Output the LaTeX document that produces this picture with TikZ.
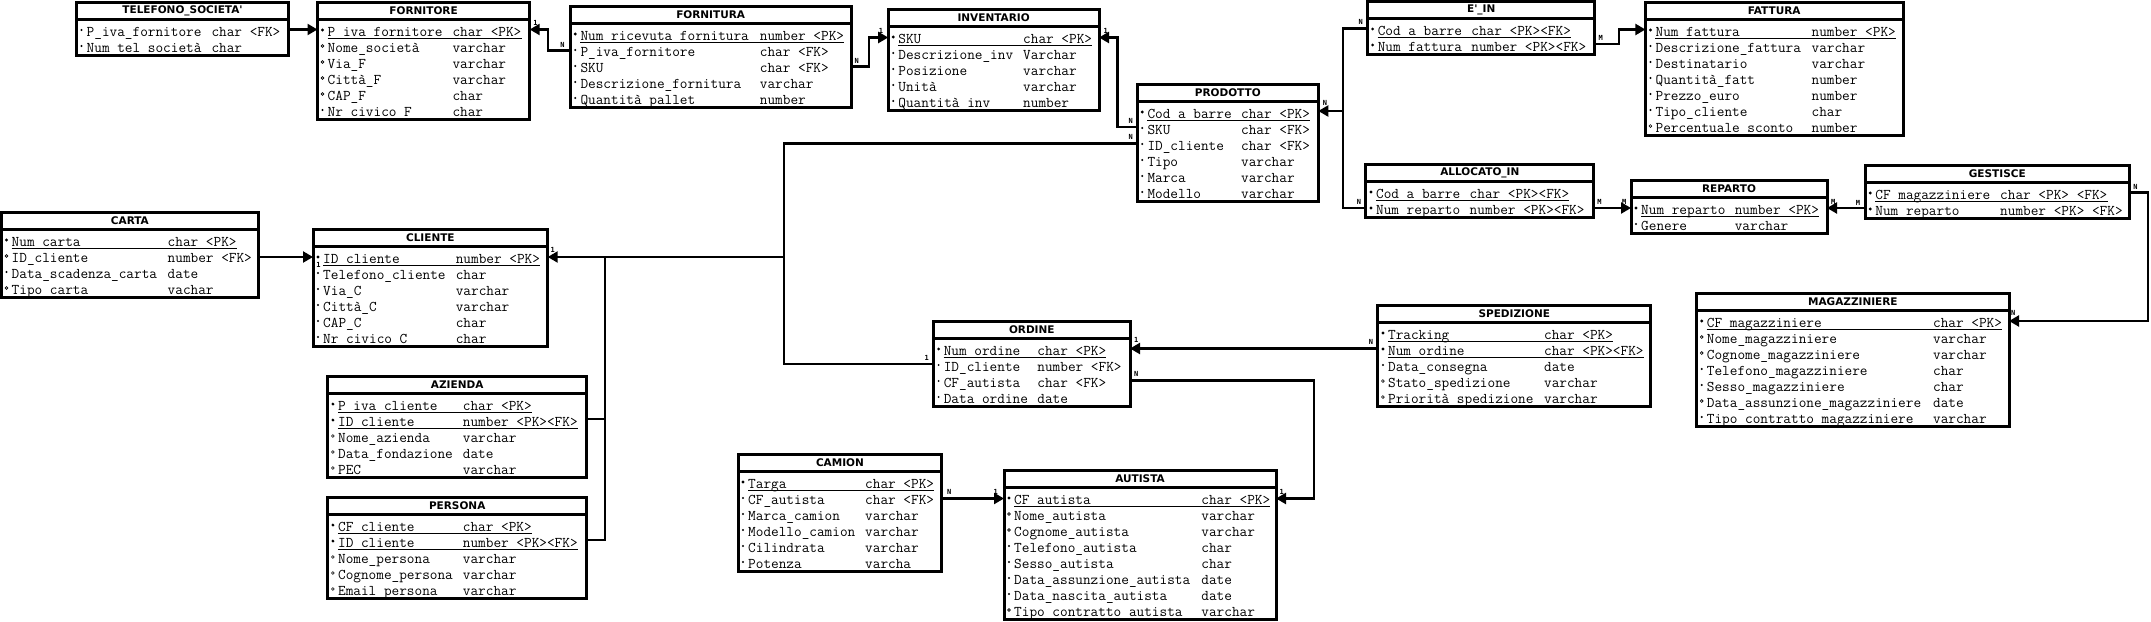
\documentclass[tikz,border=0pt]{standalone}
\usepackage{fontspec}
\newfontfamily\hdrfont{DejaVu Sans}
\newfontfamily\cardfont{DejaVu Sans Mono}
\usetikzlibrary{arrows.meta}
\tikzset{
  tbl/.style={draw, line width=3pt, inner sep=0pt, outer sep=0pt, fill=white},
  hline/.style={line width=3pt},
  ttl/.style={font=\hdrfont\bfseries\fontsize{10.5}{12}\selectfont, inner sep=0pt},
  rowtxt/.style={font=\ttfamily\fontsize{14.86}{16}\selectfont, anchor=base west, inner sep=0pt},
  uline/.style={line width=0.7pt},
  conn/.style={line width=2.2pt},
  arr/.style={conn, -{Triangle[length=10pt,width=11pt]}},
  card/.style={font=\cardfont\bfseries\fontsize{7}{8}\selectfont, inner sep=0pt},
}
% #1 id, #2 L, #3 T, #4 R, #5 rows count, #6 type column (chars), #7 title, #8 rows
\newcommand{\ertable}[8]{%
  \pgfmathsetmacro{\erH}{21+16*#5}%
  \pgfmathsetmacro{\erW}{#4-#2}%
  \node[tbl, minimum width=\erW pt, minimum height=\erH pt, anchor=north west] (#1) at (#2,#3) {};
  \draw[hline] (#2,#3+17.5) -- (#4,#3+17.5);
  \node[ttl] (#1-title) at ({(#2+#4)/2},#3+9) {#7};
  \foreach \mk/\nm/\ty [count=\i] in {#8} {
    \pgfmathsetmacro{\erY}{#3+34+16*(\i-1)}
    \node[rowtxt] (#1-n\i) at (#2+10,\erY) {\nm};
    \node[rowtxt] (#1-t\i) at (#2+10+#6*7.8,\erY) {\ty};
    \if p\mk
      \fill (#2+5,\erY-6) circle (1.6pt);
      \draw[uline] ([yshift=-2pt]#1-n\i.base west) -- ([yshift=-2pt]#1-t\i.base east);
    \fi
    \if m\mk \fill (#2+5,\erY-6) circle (1.1pt); \fi
    \if o\mk \draw[line width=0.6pt] (#2+5,\erY-6) circle (1.4pt); \fi
  }
}
\begin{document}
\begin{tikzpicture}[x=1pt,y=-1pt]
\fill[white] (0,0) rectangle (2151,621);
\useasboundingbox (0,0) rectangle (2151,621);

\ertable{TEL}{76.5}{2}{288.6}{2}{16}{TELEFONO\_SOCIETA\textquotesingle}{m/P\_iva\_fornitore/char <FK>, m/Num tel società/char}
\ertable{FORN}{317.5}{2}{529.7}{6}{16}{FORNITORE}{p/P\_iva\_fornitore/char <PK>, o/Nome\_società/varchar, o/Via\_F/varchar, o/Città\_F/varchar, o/CAP\_F/char, m/Nr civico F/char}
\ertable{FURA}{570.3}{6}{851}{5}{23}{FORNITURA}{p/Num\_ricevuta\_fornitura/number <PK>, m/P\_iva\_fornitore/char <FK>, m/SKU/char <FK>, m/Descrizione\_fornitura/varchar, m/Quantità pallet/number}
\ertable{INV}{888.2}{9}{1099}{5}{16}{INVENTARIO}{p/SKU/char <PK>, m/Descrizione\_inv/Varchar, m/Posizione/varchar, m/Unità/varchar, m/Quantità inv/number}
\ertable{PROD}{1137.3}{84}{1318.3}{6}{12}{PRODOTTO}{p/Cod\_a\_barre/char <PK>, m/SKU/char <FK>, m/ID\_cliente/char <FK>, m/Tipo/varchar, m/Marca/varchar, m/Modello/varchar}
\ertable{EIN}{1367.6}{1}{1594.9}{2}{12}{E\textquotesingle\_IN}{p/Cod\_a\_barre/char <PK><FK>, p/Num fattura/number <PK><FK>}
\ertable{ALL}{1365.9}{164}{1593.8}{2}{12}{ALLOCATO\_IN}{p/Cod\_a\_barre/char <PK><FK>, p/Num reparto/number <PK><FK>}
\ertable{FATT}{1645.4}{2}{1903}{7}{20}{FATTURA}{p/Num\_fattura/number <PK>, m/Descrizione\_fattura/varchar, m/Destinatario/varchar, m/Quantità\_fatt/number, m/Prezzo\_euro/number, m/Tipo\_cliente/char, o/Percentuale sconto/number}
\ertable{REP}{1631}{180}{1827}{2}{12}{REPARTO}{p/Num\_reparto/number <PK>, m/Genere/varchar}
\ertable{GEST}{1865.2}{165}{2129.3}{2}{16}{GESTISCE}{p/CF\_magazziniere/char <PK> <FK>, p/Num reparto/number <PK> <FK>}
\ertable{MAG}{1696.7}{293}{2009}{7}{29}{MAGAZZINIERE}{p/CF\_magazziniere/char <PK>, o/Nome\_magazziniere/varchar, o/Cognome\_magazziniere/varchar, m/Telefono\_magazziniere/char, m/Sesso\_magazziniere/char, o/Data\_assunzione\_magazziniere/date, m/Tipo contratto magazziniere/varchar}
\ertable{CARTA}{1.5}{212}{258.3}{4}{20}{CARTA}{p/Num\_carta/char <PK>, o/ID\_cliente/number <FK>, m/Data\_scadenza\_carta/date, o/Tipo carta/vachar}
\ertable{CLI}{313}{229}{547.7}{6}{17}{CLIENTE}{p/ID\_cliente/number <PK>, m/Telefono\_cliente/char, m/Via\_C/varchar, m/Città\_C/varchar, m/CAP\_C/char, m/Nr civico C/char}
\ertable{AZ}{327.9}{376}{586.5}{5}{16}{AZIENDA}{p/P\_iva\_cliente/char <PK>, p/ID\_cliente/number <PK><FK>, o/Nome\_azienda/varchar, o/Data\_fondazione/date, o/PEC/varchar}
\ertable{PER}{327.9}{497}{586.5}{5}{16}{PERSONA}{p/CF\_cliente/char <PK>, p/ID\_cliente/number <PK><FK>, o/Nome\_persona/varchar, o/Cognome\_persona/varchar, o/Email persona/varchar}
\ertable{ORD}{933.6}{321}{1130}{4}{12}{ORDINE}{p/Num\_ordine/char <PK>, m/ID\_cliente/number <FK>, m/CF\_autista/char <FK>, m/Data ordine/date}
\ertable{SPED}{1377.9}{305}{1650.6}{5}{20}{SPEDIZIONE}{p/Tracking/char <PK>, p/Num\_ordine/char <PK><FK>, m/Data\_consegna/date, o/Stato\_spedizione/varchar, o/Priorità spedizione/varchar}
\ertable{CAM}{738}{454}{941.9}{6}{15}{CAMION}{p/Targa/char <PK>, m/CF\_autista/char <FK>, m/Marca\_camion/varchar, m/Modello\_camion/varchar, m/Cilindrata/varchar, m/Potenza/varcha}
\ertable{AUT}{1004}{470}{1276}{8}{24}{AUTISTA}{p/CF\_autista/char <PK>, o/Nome\_autista/varchar, o/Cognome\_autista/varchar, m/Telefono\_autista/char, m/Sesso\_autista/char, m/Data\_assunzione\_autista/date, m/Data\_nascita\_autista/date, o/Tipo contratto autista/varchar}

% connectors
\draw[arr] (TEL.east |- 0,29.5) -- (FORN.west |- 0,29.5);
\draw[arr] (FURA.west |- 0,50.5) -- (547.6,50.5) -- (547.6,29.5) -- (FORN.east |- 0,29.5);
\draw[arr] (FURA.east |- 0,66.5) -- (868.9,66.5) -- (868.9,37.5) -- (INV.west |- 0,37.5);
\draw[arr] (PROD.west |- 0,127) -- (1117.5,127) -- (1117.5,37.5) -- (INV.east |- 0,37.5);
\draw[arr] (PROD.west |- 0,143.5) -- (783.8,143.5) -- (783.8,257) -- (CLI.east |- 0,257);
\draw[conn] (ORD.west |- 0,364) -- (783.8,364) -- (783.8,257);
\draw[conn] (AZ.east |- 0,419) -- (604.7,419);
\draw[conn] (PER.east |- 0,540) -- (604.7,540) -- (604.7,257);
\draw[arr] (CARTA.east |- 0,257) -- (CLI.west |- 0,257);
\draw[arr] (EIN.west |- 0,28.5) -- (1342.8,28.5) -- (1342.8,111) -- (PROD.east |- 0,111);
\draw[conn] (ALL.west |- 0,208) -- (1342.8,208) -- (1342.8,111);
\draw[arr] (EIN.east |- 0,44) -- (1618.6,44) -- (1618.6,29.5) -- (FATT.west |- 0,29.5);
\draw[arr] (ALL.east |- 0,208) -- (REP.west |- 0,208);
\draw[arr] (GEST.west |- 0,208) -- (REP.east |- 0,208);
\draw[arr] (GEST.east |- 0,192.5) -- (2148,192.5) -- (2148,321) -- (MAG.east |- 0,321);
\draw[arr] (SPED.west |- 0,348.5) -- (ORD.east |- 0,348.5);
\draw[arr] (ORD.east |- 0,380.5) -- (1314.2,380.5) -- (1314.2,498.5) -- (AUT.east |- 0,498.5);
\draw[arr] (CAM.east |- 0,498.5) -- (AUT.west |- 0,498.5);

% cardinalities
\node[card] (k1) at (535.5,23.3) {1};
\node[card] (k2) at (562.4,45) {N};
\node[card] (k3) at (856.8,61) {N};
\node[card] (k4) at (881,31) {1};
\node[card] (k5) at (1105.8,30.7) {1};
\node[card] (k6) at (1130.7,120.7) {N};
\node[card] (k7) at (1130.7,137.3) {N};
\node[card] (k8) at (1325,103.3) {N};
\node[card] (k9) at (1360.7,22) {N};
\node[card] (k10) at (1600.7,38) {M};
\node[card] (k11) at (1359,202) {N};
\node[card] (k12) at (1599.4,202) {M};
\node[card] (k13) at (1624.1,202) {M};
\node[card] (k14) at (1833.1,202) {M};
\node[card] (k15) at (1858,203) {M};
\node[card] (k16) at (2135.5,187) {N};
\node[card] (k17) at (2013.3,313.3) {N};
\node[card] (k18) at (318.6,265) {1};
\node[card] (k19) at (552.7,250) {1};
\node[card] (k20) at (926.8,358) {1};
\node[card] (k21) at (1136.1,340) {1};
\node[card] (k22) at (1136.1,374) {N};
\node[card] (k23) at (1371,342) {N};
\node[card] (k24) at (949.1,492) {N};
\node[card] (k25) at (995.7,491.7) {1};
\node[card] (k26) at (1281.7,491.7) {1};
\end{tikzpicture}
\end{document}
